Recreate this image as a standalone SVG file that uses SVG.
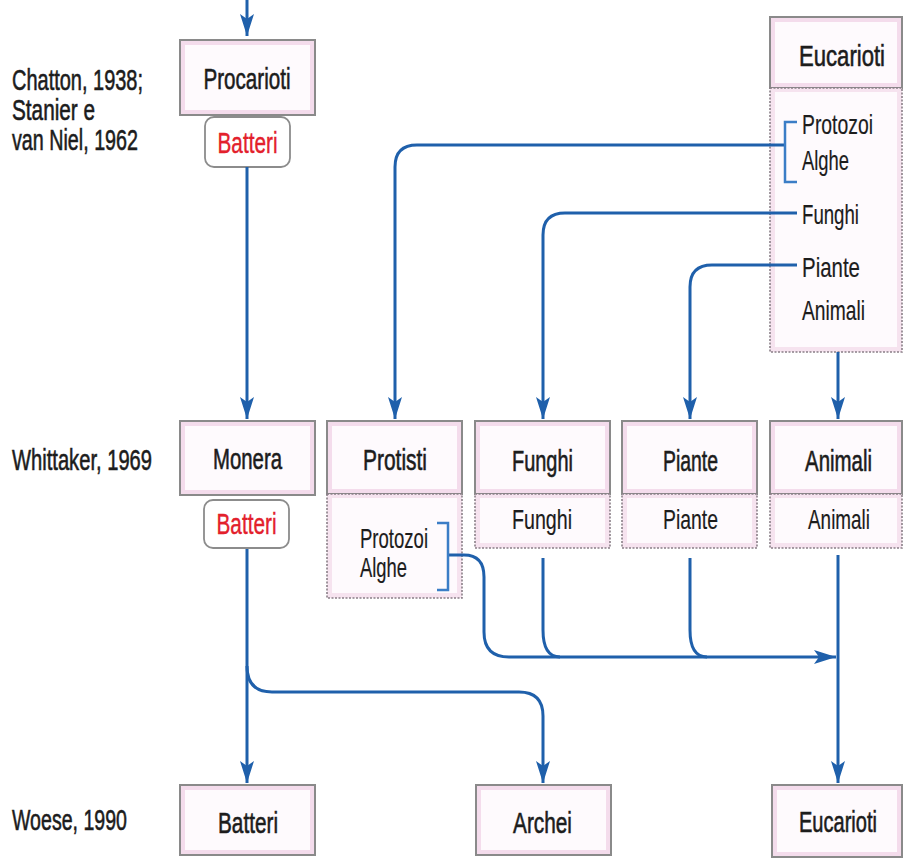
<svg xmlns="http://www.w3.org/2000/svg" width="903" height="858" viewBox="0 0 903 858">
<style>
.bo{fill:#f4dcec;stroke:#8a8a8a;stroke-width:2}
.bi{fill:#fefafd;stroke:none}
.so{fill:#f6e3ef;stroke:#8a7f88;stroke-width:1.6;stroke-dasharray:2 1.5}
.pill{fill:#fff;stroke:#8c8c8c;stroke-width:1.8}
.t{font-family:"Liberation Sans",Arial,sans-serif;fill:#1c1c1c}
.h{font-size:30px;stroke:#1c1c1c;stroke-width:0.6}
.s{font-size:28px;stroke:#1c1c1c;stroke-width:0.2}
.l{font-size:30px;stroke:#1c1c1c;stroke-width:0.6}
.r{fill:#e3202b;font-size:29px;stroke:#e3202b;stroke-width:0.4}
.c{fill:none;stroke:#1f60ab;stroke-width:3}
.br{fill:none;stroke:#3b7dc6;stroke-width:2.5}
</style>
<defs>
<marker id="ah" markerUnits="userSpaceOnUse" markerWidth="24" markerHeight="14" viewBox="0 0 24 14" refX="22" refY="7" orient="auto">
<path d="M0,0 L22,7 L0,14 L5,7 Z" fill="#1f60ab"/>
</marker>
</defs>

<g id="labels">
<text class="t l" x="12" y="90" textLength="131" lengthAdjust="spacingAndGlyphs">Chatton, 1938;</text>
<text class="t l" x="12" y="120" textLength="83" lengthAdjust="spacingAndGlyphs">Stanier e</text>
<text class="t l" x="12" y="150" textLength="126" lengthAdjust="spacingAndGlyphs">van Niel, 1962</text>
<text class="t l" x="12" y="470" textLength="140" lengthAdjust="spacingAndGlyphs">Whittaker, 1969</text>
<text class="t l" x="12" y="830" textLength="115" lengthAdjust="spacingAndGlyphs">Woese, 1990</text>
</g>

<g id="procarioti">
<rect class="bo" x="180" y="40" width="135" height="75"/>
<rect class="bi" x="185" y="45" width="125" height="65"/>
<text class="t h" x="247" y="89" text-anchor="middle" textLength="87" lengthAdjust="spacingAndGlyphs">Procarioti</text>
</g>
<g id="batteri-1">
<rect class="pill" x="205" y="117" width="85" height="50" rx="9"/>
<text class="t r" x="247.5" y="153" text-anchor="middle" textLength="60" lengthAdjust="spacingAndGlyphs">Batteri</text>
</g>

<g id="eucarioti-1">
<rect class="bo" x="770" y="17" width="132" height="71"/>
<rect class="bi" x="775" y="22" width="122" height="61"/>
<text class="t h" x="842" y="66" text-anchor="middle" textLength="86" lengthAdjust="spacingAndGlyphs">Eucarioti</text>
<rect class="so" x="770" y="88" width="132" height="264"/>
<rect class="bi" x="775" y="92" width="122" height="255"/>
<text class="t s" x="802" y="134" textLength="71" lengthAdjust="spacingAndGlyphs">Protozoi</text>
<text class="t s" x="802" y="170" textLength="47" lengthAdjust="spacingAndGlyphs">Alghe</text>
<text class="t s" x="802" y="224" textLength="57" lengthAdjust="spacingAndGlyphs">Funghi</text>
<text class="t s" x="802" y="277" textLength="58" lengthAdjust="spacingAndGlyphs">Piante</text>
<text class="t s" x="802" y="320" textLength="63" lengthAdjust="spacingAndGlyphs">Animali</text>
</g>

<g id="monera">
<rect class="bo" x="180" y="421" width="135" height="74"/>
<rect class="bi" x="185" y="426" width="125" height="64"/>
<text class="t h" x="247.5" y="469" text-anchor="middle" textLength="69" lengthAdjust="spacingAndGlyphs">Monera</text>
</g>
<g id="batteri-2">
<rect class="pill" x="204" y="500" width="85" height="48" rx="9"/>
<text class="t r" x="246.5" y="534" text-anchor="middle" textLength="60" lengthAdjust="spacingAndGlyphs">Batteri</text>
</g>

<g id="protisti">
<rect class="bo" x="327" y="421" width="135" height="73"/>
<rect class="bi" x="332" y="426" width="125" height="63"/>
<text class="t h" x="395" y="470" text-anchor="middle" textLength="64" lengthAdjust="spacingAndGlyphs">Protisti</text>
<rect class="so" x="327" y="494" width="135" height="104"/>
<rect class="bi" x="332" y="498" width="125" height="95"/>
<text class="t s" x="360" y="548" textLength="68" lengthAdjust="spacingAndGlyphs">Protozoi</text>
<text class="t s" x="360" y="577" textLength="47" lengthAdjust="spacingAndGlyphs">Alghe</text>
</g>

<g id="funghi">
<rect class="bo" x="475" y="421" width="135" height="73"/>
<rect class="bi" x="480" y="426" width="125" height="63"/>
<text class="t h" x="542.5" y="471" text-anchor="middle" textLength="61" lengthAdjust="spacingAndGlyphs">Funghi</text>
<rect class="so" x="475" y="494" width="135" height="54"/>
<rect class="bi" x="480" y="498" width="125" height="45"/>
<text class="t s" x="542" y="529" text-anchor="middle" textLength="60" lengthAdjust="spacingAndGlyphs">Funghi</text>
</g>

<g id="piante">
<rect class="bo" x="622" y="421" width="135" height="73"/>
<rect class="bi" x="627" y="426" width="125" height="63"/>
<text class="t h" x="690.5" y="471" text-anchor="middle" textLength="55" lengthAdjust="spacingAndGlyphs">Piante</text>
<rect class="so" x="622" y="494" width="135" height="54"/>
<rect class="bi" x="627" y="498" width="125" height="45"/>
<text class="t s" x="690.5" y="529" text-anchor="middle" textLength="55" lengthAdjust="spacingAndGlyphs">Piante</text>
</g>

<g id="animali">
<rect class="bo" x="770" y="421" width="132" height="73"/>
<rect class="bi" x="775" y="426" width="122" height="63"/>
<text class="t h" x="838.5" y="471" text-anchor="middle" textLength="67" lengthAdjust="spacingAndGlyphs">Animali</text>
<rect class="so" x="770" y="494" width="132" height="54"/>
<rect class="bi" x="775" y="498" width="122" height="45"/>
<text class="t s" x="839" y="529" text-anchor="middle" textLength="62" lengthAdjust="spacingAndGlyphs">Animali</text>
</g>

<g id="batteri-3">
<rect class="bo" x="180" y="785" width="135" height="70"/>
<rect class="bi" x="185" y="790" width="125" height="60"/>
<text class="t h" x="248" y="833" text-anchor="middle" textLength="60" lengthAdjust="spacingAndGlyphs">Batteri</text>
</g>

<g id="archei">
<rect class="bo" x="476" y="785" width="135" height="70"/>
<rect class="bi" x="481" y="790" width="125" height="60"/>
<text class="t h" x="542.5" y="833" text-anchor="middle" textLength="59" lengthAdjust="spacingAndGlyphs">Archei</text>
</g>

<g id="eucarioti-2">
<rect class="bo" x="772" y="785" width="130" height="72"/>
<rect class="bi" x="777" y="790" width="120" height="62"/>
<text class="t h" x="838" y="832" text-anchor="middle" textLength="78" lengthAdjust="spacingAndGlyphs">Eucarioti</text>
</g>

<g id="connectors">
<path class="c" d="M247,0 V36" marker-end="url(#ah)"/>
<path class="c" d="M247,167 V419" marker-end="url(#ah)"/>
<path class="c" d="M247,549 V783" marker-end="url(#ah)"/>
<path class="c" d="M247,666 Q247,692 272,692 H519 Q543,692 543,716 V783" marker-end="url(#ah)"/>
<path class="c" d="M785,145 H417 Q395,145 395,167 V419" marker-end="url(#ah)"/>
<path class="c" d="M797,213 H565 Q543,213 543,235 V419" marker-end="url(#ah)"/>
<path class="c" d="M797,265 H712 Q690,265 690,287 V419" marker-end="url(#ah)"/>
<path class="c" d="M838,352 V419" marker-end="url(#ah)"/>
<path class="c" d="M449,555 H464 Q484,555 484,577 V632 Q484,657 509,657 H836" marker-end="url(#ah)"/>
<path class="c" d="M543,558 V630 Q543,657 560,657"/>
<path class="c" d="M690,558 V630 Q690,657 707,657"/>
<path class="c" d="M838,555 V783" marker-end="url(#ah)"/>
<path class="br" d="M797,122 H785 V182 H797"/>
<path class="br" d="M437,523 H448 V590 H437"/>
</g>
</svg>
